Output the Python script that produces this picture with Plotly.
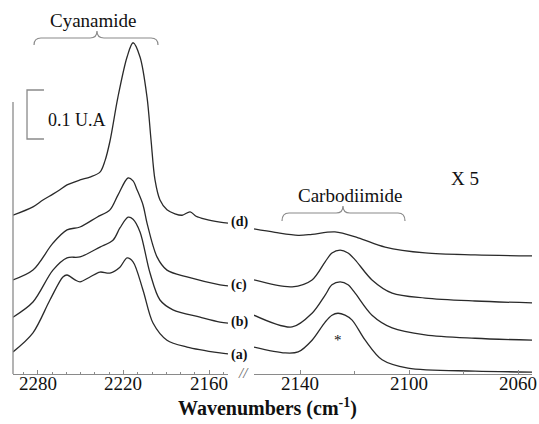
import plotly.graph_objects as go

# ---- data (wavenumber cm-1, absorbance with vertical offsets as displayed) ----
# Cyanamide region (left panel)
wn_d_left = [2297.5, 2283.5, 2276.5, 2269.5, 2264.6, 2259.6, 2250.5, 2243.5, 2236.5, 2233.0,
             2229.5, 2223.9, 2217.5, 2213.3, 2208.4, 2203.5, 2200.7, 2197.9, 2194.4, 2189.5,
             2183.9, 2178.9, 2173.3, 2169.1, 2162.8, 2152.3, 2146.7]
abs_d_left = [0.324, 0.341, 0.355, 0.367, 0.376, 0.386, 0.396, 0.402, 0.412, 0.435,
              0.475, 0.565, 0.647, 0.676, 0.647, 0.565, 0.478, 0.396, 0.355, 0.335,
              0.327, 0.324, 0.331, 0.322, 0.316, 0.310, 0.308]

wn_c_left = [2297.5, 2283.5, 2269.5, 2259.6, 2250.5, 2238.6, 2229.5, 2223.9, 2216.8, 2213.3,
             2210.5, 2206.3, 2203.5, 2196.5, 2189.5, 2175.4, 2152.3, 2146.7]
abs_c_left = [0.192, 0.212, 0.267, 0.294, 0.300, 0.320, 0.335, 0.365, 0.400, 0.394,
              0.376, 0.345, 0.308, 0.239, 0.212, 0.198, 0.182, 0.180]

wn_b_left = [2297.5, 2283.5, 2269.5, 2259.6, 2250.5, 2236.5, 2227.4, 2222.5, 2216.8, 2213.3,
             2208.4, 2201.4, 2194.4, 2185.3, 2166.3, 2152.3, 2146.7]
abs_b_left = [0.116, 0.147, 0.212, 0.237, 0.239, 0.259, 0.273, 0.298, 0.320, 0.316,
              0.290, 0.206, 0.151, 0.131, 0.116, 0.106, 0.104]

wn_a_left = [2297.5, 2283.5, 2271.6, 2262.5, 2259.6, 2254.0, 2250.5, 2243.5, 2236.5, 2229.5,
             2222.5, 2217.5, 2213.3, 2206.3, 2199.3, 2189.5, 2175.4, 2152.3, 2146.7]
abs_a_left = [0.045, 0.084, 0.151, 0.198, 0.202, 0.192, 0.188, 0.198, 0.208, 0.206,
              0.218, 0.237, 0.229, 0.171, 0.104, 0.069, 0.055, 0.043, 0.041]

# Carbodiimide region (right panel, x5)
wn_d_right = [2156.9, 2149.2, 2140.7, 2135.6, 2127.2, 2118.7, 2108.8, 2094.1, 2075.8, 2054.9]
abs_d_right = [0.296, 0.289, 0.283, 0.285, 0.290, 0.278, 0.259, 0.247, 0.243, 0.241]

wn_c_right = [2156.9, 2142.9, 2135.6, 2130.8, 2128.3, 2125.3, 2122.4, 2119.8, 2113.6, 2106.2,
              2094.1, 2075.8, 2054.9]
abs_c_right = [0.192, 0.178, 0.192, 0.229, 0.247, 0.253, 0.247, 0.233, 0.192, 0.165,
               0.155, 0.149, 0.145]

wn_b_right = [2156.9, 2142.9, 2135.6, 2130.8, 2128.3, 2125.3, 2122.4, 2119.8, 2113.6, 2106.2,
              2094.1, 2075.8, 2054.9]
abs_b_right = [0.120, 0.096, 0.124, 0.161, 0.182, 0.188, 0.182, 0.165, 0.120, 0.094,
               0.080, 0.073, 0.069]

wn_a_right = [2156.9, 2145.5, 2140.7, 2135.6, 2130.8, 2128.3, 2126.1, 2123.5, 2120.9, 2116.1,
              2109.9, 2100.4, 2075.8, 2054.9]
abs_a_right = [0.055, 0.043, 0.045, 0.069, 0.106, 0.120, 0.124, 0.120, 0.110, 0.069,
               0.029, 0.012, 0.006, 0.004]

curve_labels = ["(a)", "(b)", "(c)", "(d)"]
left_ticks = [2280, 2220, 2160]
right_ticks = [2140, 2100, 2060]

# ---- figure ----
W, H = 539, 424
ML, MR, MT, MB = 13, 7, 25, 50
PW, PH = W - ML - MR, H - MT - MB


def P(x, y):
    """pixel -> paper coordinates"""
    return (x - ML) / PW, (H - MB - y) / PH


LINE = "#2a2a2a"
AXC = "#8a8a8a"
FONT = "Liberation Serif, Tinos, Times New Roman, DejaVu Serif, serif"

fig = go.Figure()
left_sets = [(wn_a_left, abs_a_left), (wn_b_left, abs_b_left), (wn_c_left, abs_c_left), (wn_d_left, abs_d_left)]
right_sets = [(wn_a_right, abs_a_right), (wn_b_right, abs_b_right), (wn_c_right, abs_c_right), (wn_d_right, abs_d_right)]
for (xs, ys) in left_sets:
    fig.add_trace(go.Scatter(x=xs, y=ys, mode="lines", xaxis="x", yaxis="y",
                             line=dict(color=LINE, width=1.3, shape="spline", smoothing=0.9),
                             showlegend=False, hoverinfo="skip"))
for (xs, ys) in right_sets:
    fig.add_trace(go.Scatter(x=xs, y=ys, mode="lines", xaxis="x2", yaxis="y",
                             line=dict(color=LINE, width=1.3, shape="spline", smoothing=0.9),
                             showlegend=False, hoverinfo="skip"))

axis_common = dict(showgrid=False, zeroline=False, showline=True, linecolor=AXC, linewidth=1.3,
                   ticks="inside", ticklen=4, tickcolor=AXC, tickwidth=1,
                   showticklabels=False, anchor="y")

fig.update_layout(
    width=W, height=H,
    margin=dict(l=ML, r=MR, t=MT, b=MB, pad=0),
    paper_bgcolor="white", plot_bgcolor="white",
    font=dict(family=FONT, color="#111"),
    xaxis=dict(domain=[0, (228 - ML) / PW], range=[2297.5, 2146.7], tickvals=left_ticks,
               minor=dict(dtick=10, tick0=2160, ticks="inside", ticklen=2, tickcolor=AXC),
               **axis_common),
    xaxis2=dict(domain=[(254 - ML) / PW, 1], range=[2156.9, 2054.9], tickvals=right_ticks,
                minor=dict(dtick=20, tick0=2060, ticks="inside", ticklen=3, tickcolor=AXC),
                **axis_common),
    yaxis=dict(range=[0, PH / 490], visible=False, domain=[0, 1]),
)

# tick labels placed through the axes' own data scales
tick_y = P(0, 383)[1]
for xref, ticks in (("x", left_ticks), ("x2", right_ticks)):
    for t in ticks:
        fig.add_annotation(text=str(t), x=t, y=tick_y, xref=xref, yref="paper", showarrow=False,
                           xanchor="center", yanchor="middle",
                           font=dict(family=FONT, size=19, color="#111"))

shapes = []
# y axis line (partial)
x0, y0 = P(13, 102)
x1, y1 = P(13, 374)
shapes.append(dict(type="line", xref="paper", yref="paper", x0=x0, y0=y0, x1=x1, y1=y1,
                   line=dict(color=AXC, width=1.3)))
# scale bar
pts = [P(44, 90), P(27, 90), P(27, 139), P(44, 139)]
path = "M " + " L ".join(f"{a:.4f},{b:.4f}" for a, b in pts)
shapes.append(dict(type="path", xref="paper", yref="paper", path=path, line=dict(color=AXC, width=1.3)))


def brace(xl, xr, yb, yh, xc, yt):
    p = [("M", [(xl, yb)]), ("Q", [(xl, yh), (xl + 7, yh)]), ("L", [(xc - 7, yh)]),
         ("Q", [(xc, yh), (xc, yt)]), ("Q", [(xc, yh), (xc + 7, yh)]), ("L", [(xr - 7, yh)]),
         ("Q", [(xr, yh), (xr, yb)])]
    s = ""
    for cmd, ptl in p:
        s += cmd + " " + " ".join("%.4f,%.4f" % P(a, b) for a, b in ptl) + " "
    return s.strip()


shapes.append(dict(type="path", xref="paper", yref="paper", path=brace(34, 158, 45, 38, 97, 31),
                   line=dict(color=AXC, width=1.2)))
shapes.append(dict(type="path", xref="paper", yref="paper", path=brace(282, 405, 221, 213, 343, 206),
                   line=dict(color=AXC, width=1.2)))
fig.update_layout(shapes=shapes)


def ann(text, x, y, size=19, xanchor="center", bold=False, color="#111", italic=False):
    px_, py_ = P(x, y)
    t = f"<b>{text}</b>" if bold else text
    if italic:
        t = f"<i>{t}</i>"
    fig.add_annotation(text=t, x=px_, y=py_, xref="paper", yref="paper", showarrow=False,
                       xanchor=xanchor, yanchor="middle",
                       font=dict(family=FONT, size=size, color=color))


ann("Cyanamide", 93, 20)
ann("Carbodiimide", 350, 195)
ann("X 5", 465, 178)
ann("0.1 U.A", 46, 120, size=18, xanchor="left")
ann("*", 338, 340, size=15)
ann("//", 243, 373, size=15, italic=True, color="#666")
ann("Wavenumbers (cm<sup>-1</sup>)", 267, 407, size=20, bold=True)
label_y = [355, 322, 285, 222]
for lab, ly in zip(curve_labels, label_y):
    ann(lab, 229, ly, size=14, xanchor="left", bold=True)

fig.write_html("out.html")
